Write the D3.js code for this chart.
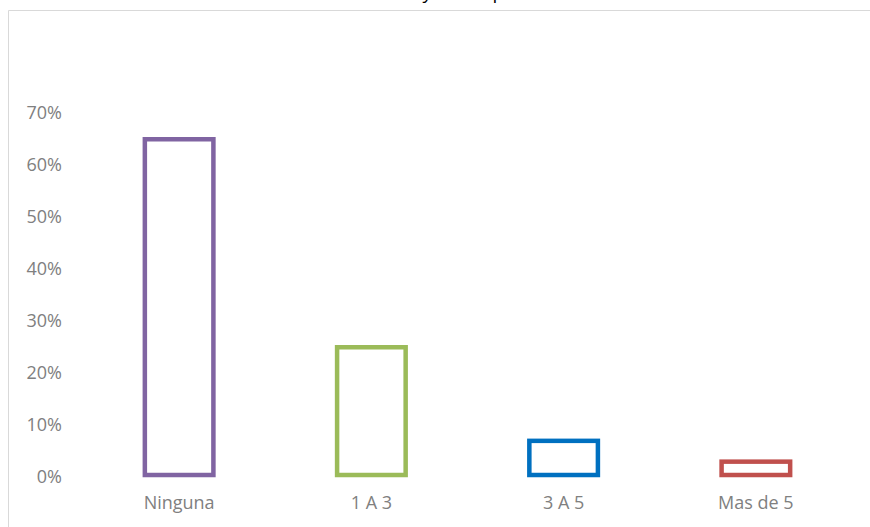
<!DOCTYPE html>
<html>
<head>
<meta charset="utf-8">
<script src="https://cdn.jsdelivr.net/npm/d3@7"></script>
<style>
  body { margin: 0; background: #fff; }
  svg { display: block; font-family: "Open Sans", sans-serif; }
</style>
</head>
<body>
<div id="chart"></div>
<script>
// data
var categories = ['Ninguna', '1 A 3', '3 A 5', 'Mas de 5']
var values = [0.65, 0.25, 0.07, 0.03]
var colors = ['#8064a2', '#9bbb59', '#0070c0', '#c0504d']
var ticks = [0, 0.1, 0.2, 0.3, 0.4, 0.5, 0.6, 0.7]
var title = 'Cursos realizados y horas por semana'

var W = 870, H = 527
var svg = d3.select('#chart').append('svg')
	.attr('width', W)
	.attr('height', H)

// chart frame (only top and left edges show in the crop)
svg.append('path')
	.attr('d', 'M8.5,' + H + 'V10.5H' + W)
	.attr('fill', 'none')
	.attr('stroke', '#d9d9d9')
	.attr('stroke-width', 1)

// title, mostly cut off above the window
svg.append('text')
	.attr('x', 430)
	.attr('y', -1)
	.attr('text-anchor', 'middle')
	.attr('font-size', 19)
	.attr('fill', '#000')
	.text(title)

var x = d3.scaleBand()
	.domain(categories)
	.range([83, 852])
	.paddingInner(0.62)
	.paddingOuter(0.31)

var y = d3.scaleLinear()
	.domain([0, 0.7])
	.range([475, 111])

var labelColor = '#808080'

// y axis, labels only
var yAxis = svg.append('g')
	.attr('transform', 'translate(62,0)')
	.call(d3.axisLeft(y).tickValues(ticks).tickFormat(d3.format('.0%')).tickSize(0).tickPadding(0))
yAxis.select('.domain').remove()
yAxis.selectAll('text')
	.attr('dy', '0.42em')
	.attr('fill', labelColor)
	.attr('font-size', 18)
	.attr('font-family', '"Open Sans", sans-serif')

// x axis, labels only
var xAxis = svg.append('g')
	.attr('transform', 'translate(0,496)')
	.call(d3.axisBottom(x).tickSize(0).tickPadding(0))
xAxis.select('.domain').remove()
xAxis.selectAll('text')
	.attr('fill', labelColor)
	.attr('font-size', 18)
	.attr('font-family', '"Open Sans", sans-serif')

// outlined bars
var sw = 4.5
svg.selectAll('rect.bar')
	.data(values)
	.enter()
	.append('rect')
	.attr('class', 'bar')
	.attr('x', function(d, i) { return x(categories[i]) + sw / 2 })
	.attr('y', function(d) { return y(d) + sw / 2 })
	.attr('width', x.bandwidth() - sw)
	.attr('height', function(d) { return y(0) - y(d) - sw / 2 })
	.attr('fill', '#fff')
	.attr('stroke', function(d, i) { return colors[i] })
	.attr('stroke-width', sw)
</script>
</body>
</html>
